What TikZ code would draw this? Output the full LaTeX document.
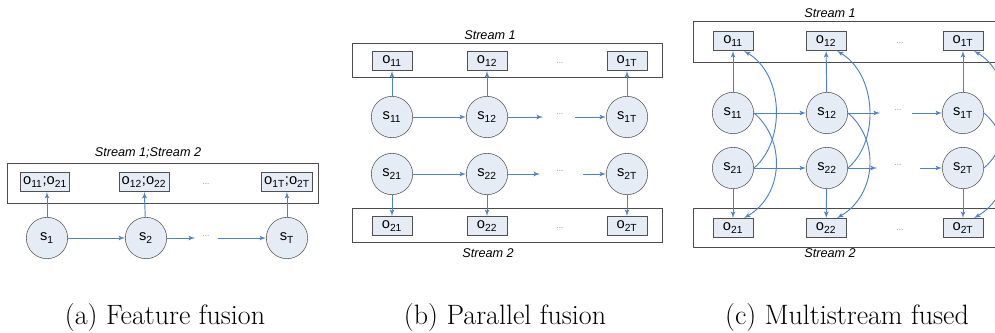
\documentclass[tikz,border=0pt]{standalone}
\usepackage{fontspec}
\setsansfont{Liberation Sans}
\usetikzlibrary{arrows}
\usepackage{xcolor}
\definecolor{linkblue}{HTML}{4F81C8}
\definecolor{nodefill}{HTML}{E6ECF6}
\definecolor{nodeline}{HTML}{505050}
\newcommand{\idx}[1]{\textsubscript{#1}}
\begin{document}
\begin{tikzpicture}[x=0.75pt,y=-0.75pt]
		
		\tikzset{state/.style = {shape=circle,draw=nodeline,fill=nodefill,minimum size=31pt,inner sep=0pt,font=\fontsize{11}{13}\sffamily}}
		\tikzset{obs/.style = {shape=rectangle,draw=nodeline,fill=nodefill,minimum width=30pt,minimum height=14.5pt,inner sep=2pt,font=\fontsize{11}{13}\sffamily}}
		\tikzset{frame/.style = {draw=black!70,line width=0.6pt}}
		\tikzset{link/.style = {->,> = latex',draw=linkblue,line width=0.7pt}}
		\tikzset{streamlabel/.style = {font=\fontsize{9.5}{11}\sffamily\itshape}}
		\tikzset{dots/.style = {text=black!50,font=\fontsize{6}{7}\sffamily}}
		\tikzset{caption/.style = {font=\fontsize{21}{24}\selectfont}}
		\clip (0,0) rectangle (995,332);
		%(a) feature fusion
		\node[streamlabel] (La) at (148,153) {Stream 1;Stream 2};
		\draw[frame] (7,163) rectangle (318,203);
		\node[obs] (Oa1) at (45,182) {o\idx{11};o\idx{21}};
		\node[obs] (Oa2) at (144,182) {o\idx{12};o\idx{22}};
		\node[obs] (OaT) at (287,182) {o\idx{1T};o\idx{2T}};
		\node[dots] (Da) at (206,184) {...};
		\node[state] (Sa1) at (47,238) {s\idx{1}};
		\node[state] (Sa2) at (146,238) {s\idx{2}};
		\node[state] (SaT) at (287,238) {s\idx{T}};
		\node[dots] (Ea) at (206,236) {...};
		\coordinate (ua) at (195,238);
		\coordinate (va) at (218,238);
		%(b) parallel fusion
		\node[streamlabel] (Lb1) at (490,35) {Stream 1};
		\draw[frame] (352,43) rectangle (662,77);
		\node[obs] (Ob11) at (392,61) {o\idx{11}};
		\node[obs] (Ob12) at (487,61) {o\idx{12}};
		\node[obs] (Ob1T) at (627,61) {o\idx{1T}};
		\node[dots] (Db1) at (560,63) {...};
		\node[state] (Sb11) at (392,117) {s\idx{11}};
		\node[state] (Sb12) at (487,117) {s\idx{12}};
		\node[state] (Sb1T) at (627,117) {s\idx{1T}};
		\node[dots] (Eb1) at (560,114) {...};
		\coordinate (ub1) at (543,117);
		\coordinate (vb1) at (575,117);
		\node[state] (Sb21) at (392,174) {s\idx{21}};
		\node[state] (Sb22) at (487,174) {s\idx{22}};
		\node[state] (Sb2T) at (627,174) {s\idx{2T}};
		\node[dots] (Eb2) at (560,171) {...};
		\coordinate (ub2) at (540,174);
		\coordinate (vb2) at (583,174);
		\draw[frame] (352,208) rectangle (662,242);
		\node[obs] (Ob21) at (392,226) {o\idx{21}};
		\node[obs] (Ob22) at (487,226) {o\idx{22}};
		\node[obs] (Ob2T) at (627,226) {o\idx{2T}};
		\node[dots] (Db2) at (560,228) {...};
		\node[streamlabel] (Lb2) at (488,253) {Stream 2};
		%(c) multistream fused
		\node[streamlabel] (Lc1) at (830,13) {Stream 1};
		\draw[frame] (693,21) rectangle (1005,62);
		\node[obs] (Oc11) at (733,41) {o\idx{11}};
		\node[obs] (Oc12) at (826,41) {o\idx{12}};
		\node[obs] (Oc1T) at (963,41) {o\idx{1T}};
		\node[dots] (Dc1) at (900,43) {...};
		\node[state] (Sc11) at (733,113) {s\idx{11}};
		\node[state] (Sc12) at (827,113) {s\idx{12}};
		\node[state] (Sc1T) at (963,113) {s\idx{1T}};
		\node[dots] (Ec1) at (898,110) {...};
		\coordinate (uc1) at (880,113);
		\coordinate (vc1) at (912,113);
		\node[state] (Sc21) at (733,168) {s\idx{21}};
		\node[state] (Sc22) at (827,168) {s\idx{22}};
		\node[state] (Sc2T) at (963,168) {s\idx{2T}};
		\node[dots] (Ec2) at (898,165) {...};
		\coordinate (uc2) at (877,168);
		\coordinate (vc2) at (920,168);
		\draw[frame] (693,208) rectangle (1005,247);
		\node[obs] (Oc21) at (733,228) {o\idx{21}};
		\node[obs] (Oc22) at (826,228) {o\idx{22}};
		\node[obs] (Oc2T) at (963,228) {o\idx{2T}};
		\node[dots] (Dc2) at (900,230) {...};
		\node[streamlabel] (Lc2) at (830,253) {Stream 2};
		%captions
		\node[caption] (Ca) at (165,318) {(a) Feature fusion};
		\node[caption] (Cb) at (505,318) {(b) Parallel fusion};
		\node[caption] (Cc) at (847,318) {(c) Multistream fused};
		%edges
		\draw[link] (Sa1) to (Sa2);
		\draw[link] (Sa2) to (ua);
		\draw[link] (va) to (SaT);
		\draw[link] (Sa1) to (Oa1.south -| Sa1);
		\draw[link] (Sa2) to (Oa2);
		\draw[link] (SaT) to (OaT);
		\draw[link] (Sb11) to (Sb12);
		\draw[link] (Sb12) to (ub1);
		\draw[link] (vb1) to (Sb1T);
		\draw[link] (Sb21) to (Sb22);
		\draw[link] (Sb22) to (ub2);
		\draw[link] (vb2) to (Sb2T);
		\draw[link] (Sb11) to (Ob11);
		\draw[link] (Sb12) to (Ob12);
		\draw[link] (Sb1T) to (Ob1T);
		\draw[link] (Sb21) to (Ob21);
		\draw[link] (Sb22) to (Ob22);
		\draw[link] (Sb2T) to (Ob2T);
		\draw[link] (Sc11) to (Sc12);
		\draw[link] (Sc12) to (uc1);
		\draw[link] (vc1) to (Sc1T);
		\draw[link] (Sc21) to (Sc22);
		\draw[link] (Sc22) to (uc2);
		\draw[link] (vc2) to (Sc2T);
		\draw[link] (Sc11) to (Oc11);
		\draw[link] (Sc12) to (Oc12);
		\draw[link] (Sc1T) to (Oc1T);
		\draw[link] (Sc21) to (Oc21);
		\draw[link] (Sc22) to (Oc22);
		\draw[link] (Sc2T) to (Oc2T);
		\draw[link] (Sc11.east) .. controls +(32,27) and +(40,-23) .. ([xshift=-7pt]Oc21.north east);
		\draw[link] (Sc21.east) .. controls +(32,-27) and +(40,23) .. ([xshift=-7pt]Oc11.south east);
		\draw[link] (Sc12.east) .. controls +(32,27) and +(40,-23) .. ([xshift=-7pt]Oc22.north east);
		\draw[link] (Sc22.east) .. controls +(32,-27) and +(40,23) .. ([xshift=-7pt]Oc12.south east);
		\draw[link] (Sc1T.east) .. controls +(32,27) and +(40,-23) .. ([xshift=-7pt]Oc2T.north east);
		\draw[link] (Sc2T.east) .. controls +(32,-27) and +(40,23) .. ([xshift=-7pt]Oc1T.south east);
		\end{tikzpicture}
\end{document}
